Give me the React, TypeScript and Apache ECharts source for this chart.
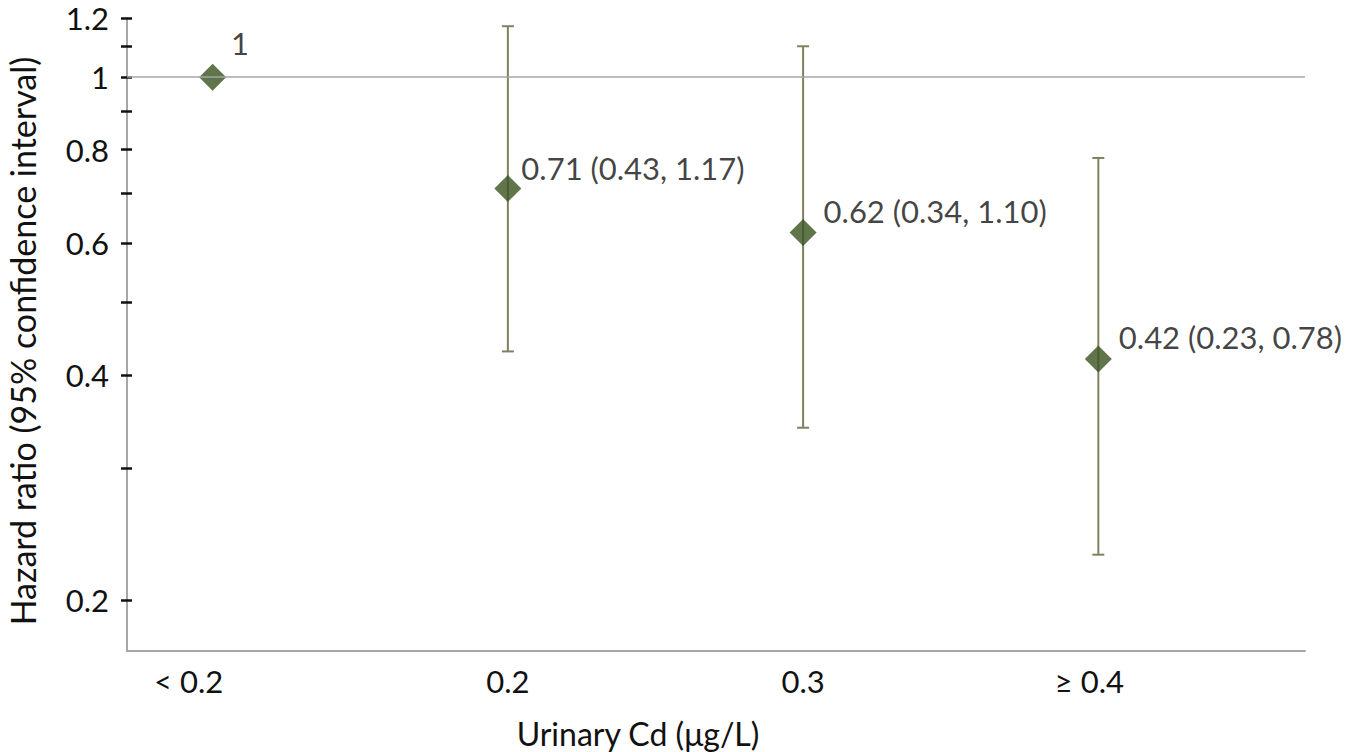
import React, { useEffect, useRef } from "react";
import * as echarts from "echarts";

const categories = ["< 0.2", "0.2", "0.3", "≥ 0.4"];
const hazardRatio = [1, 0.71, 0.62, 0.42];
const ciLower: (number | null)[] = [null, 0.43, 0.34, 0.23];
const ciUpper: (number | null)[] = [null, 1.17, 1.1, 0.78];
const yLabelTicks = [0.2, 0.4, 0.6, 0.8, 1, 1.2];
const yMinorTicks = [0.3, 0.5, 0.7, 0.9, 1.1];
const yAxisTitle = "Hazard ratio (95% confidence interval)";
const xAxisTitle = "Urinary Cd (μg/L)";

const FONT = "Lato, 'Noto Sans', sans-serif";
const FS = 31;
const TEXT = "#111111";
const lg = (v: number) => Math.log10(v);

export default function App() {
  const ref = useRef<HTMLDivElement>(null);
  useEffect(() => {
    if (!ref.current) return;
    const chart = echarts.init(ref.current, null, { renderer: "svg" });

    const labelOffsets: [number, number][] = [
      [0, -34],
      [-5, -21],
      [2, -22],
      [2, -22],
    ];
    // visual nudges for the category tick labels (right padding shifts text left)
    const catPad = [48, 0, 0, 18];

    const pointData = hazardRatio.map((hr, i) => {
      const lo = ciLower[i];
      const hi = ciUpper[i];
      const text =
        lo == null || hi == null
          ? String(hr)
          : `${hr.toFixed(2)} (${lo.toFixed(2)}, ${hi.toFixed(2)})`;
      return {
        value: [i + 1, lg(hr)],
        label: { formatter: text, offset: labelOffsets[i] },
      };
    });

    const errData: number[][] = [];
    hazardRatio.forEach((_, i) => {
      const lo = ciLower[i];
      const hi = ciUpper[i];
      if (lo != null && hi != null) errData.push([i + 1, lg(lo), lg(hi)]);
    });

    const yMin = -0.767;
    const yMax = lg(1.2);
    const allTicks = [...yLabelTicks, ...yMinorTicks].map(lg);

    const rich: Record<string, any> = {};
    catPad.forEach((p, i) => {
      rich["c" + i] = {
        fontFamily: FONT,
        fontSize: FS,
        color: TEXT,
        padding: [0, p, 0, 0],
      };
    });

    chart.setOption({
      animation: false,
      grid: { left: 127, right: 58, top: 18, bottom: 101, containLabel: false },
      xAxis: {
        type: "value",
        min: 0.71,
        max: 4.7,
        splitLine: { show: false },
        axisTick: { show: false },
        axisLine: { onZero: false, lineStyle: { color: "#a6a6a6", width: 2 } },
        axisLabel: {
          customValues: [1, 2, 3, 4],
          formatter: (v: number) => {
            const i = Math.round(v) - 1;
            return `{c${i}|${categories[i] ?? ""}}`;
          },
          rich,
          fontFamily: FONT,
          fontSize: FS,
          color: TEXT,
          margin: 14,
        },
      },
      yAxis: [
        {
          type: "value",
          min: yMin,
          max: yMax,
          splitLine: { show: false },
          axisLine: { show: true, lineStyle: { color: "#a6a6a6", width: 2 } },
          axisTick: {
            show: true,
            customValues: allTicks,
            length: 6,
            lineStyle: { color: "#111", width: 2.5 },
          },
          axisLabel: {
            customValues: yLabelTicks.map(lg),
            formatter: (v: number) => {
              const r = Math.round(Math.pow(10, v) * 10) / 10;
              return String(r);
            },
            fontFamily: FONT,
            fontSize: FS,
            color: TEXT,
            margin: 18,
          },
        },
        {
          type: "value",
          min: yMin,
          max: yMax,
          position: "left",
          splitLine: { show: false },
          axisLine: { show: false },
          axisLabel: { show: false },
          axisTick: {
            show: true,
            inside: true,
            customValues: allTicks,
            length: 5,
            lineStyle: { color: "#111", width: 2.5 },
          },
        },
      ],
      series: [
        {
          type: "custom",
          yAxisIndex: 0,
          data: errData,
          z: 2,
          renderItem: (params: any, api: any) => {
            const x = api.value(0);
            const pLo = api.coord([x, api.value(1)]);
            const pHi = api.coord([x, api.value(2)]);
            const half = 6;
            const style = { stroke: "#808060", lineWidth: 2 };
            return {
              type: "group",
              children: [
                { type: "line", shape: { x1: pLo[0], y1: pLo[1], x2: pHi[0], y2: pHi[1] }, style },
                { type: "line", shape: { x1: pLo[0] - half, y1: pLo[1], x2: pLo[0] + half, y2: pLo[1] }, style },
                { type: "line", shape: { x1: pHi[0] - half, y1: pHi[1], x2: pHi[0] + half, y2: pHi[1] }, style },
              ],
            };
          },
        },
        {
          type: "scatter",
          yAxisIndex: 0,
          z: 3,
          symbol: "diamond",
          symbolSize: [27, 27],
          itemStyle: { color: "#3a5320" },
          label: {
            show: true,
            position: "right",
            distance: 5,
            fontFamily: FONT,
            fontSize: FS,
            color: TEXT,
          },
          data: pointData,
          markLine: {
            silent: true,
            symbol: ["none", "none"],
            label: { show: false },
            lineStyle: { color: "#a6a6a6", width: 1.5, type: "solid" },
            data: [{ yAxis: lg(1) }],
          },
        },
      ],
      graphic: [
        {
          type: "text",
          x: 22,
          y: 341,
          rotation: Math.PI / 2,
          style: {
            text: yAxisTitle,
            font: `34px ${FONT}`,
            fill: TEXT,
            align: "center",
            verticalAlign: "middle",
          },
        },
        {
          type: "text",
          x: 638,
          y: 733,
          style: {
            text: xAxisTitle,
            font: `32px ${FONT}`,
            fill: TEXT,
            align: "center",
            verticalAlign: "middle",
          },
        },
      ],
    });
    return () => chart.dispose();
  }, []);
  return (
    <div
      ref={ref}
      style={{ position: "absolute", left: 0, top: 0, width: 1363, height: 752 }}
    />
  );
}
